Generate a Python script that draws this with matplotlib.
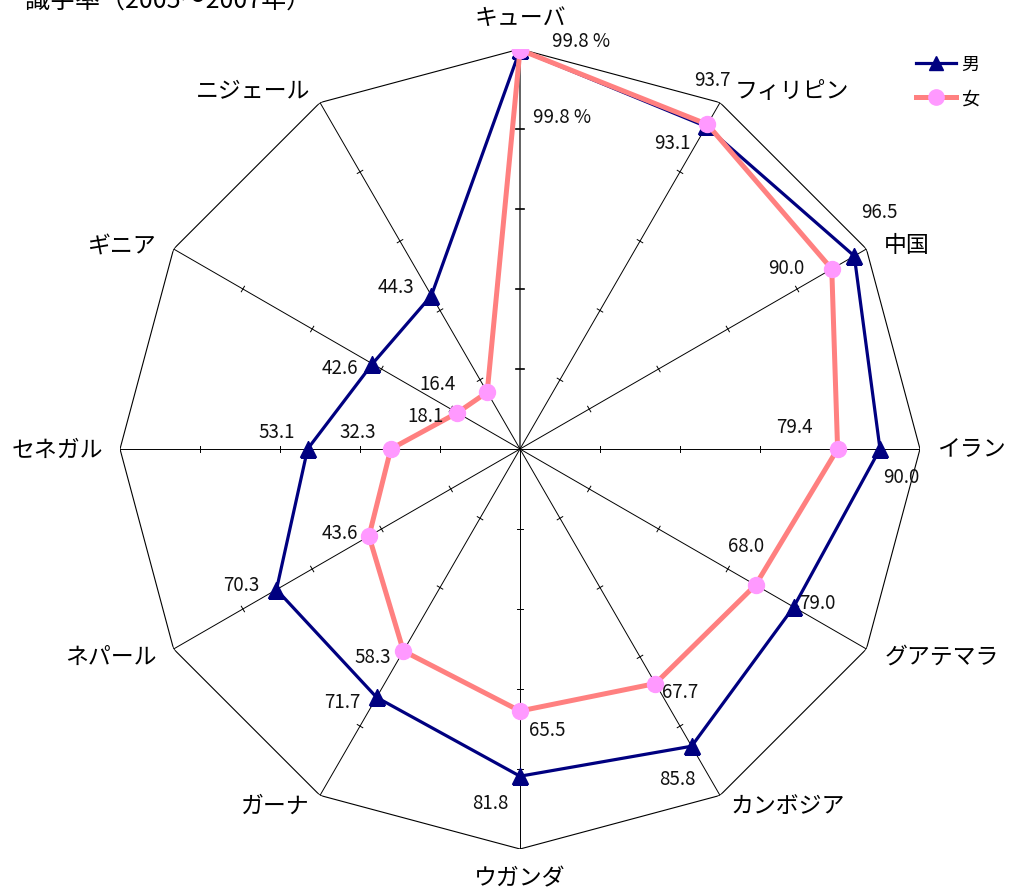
import numpy as np
import matplotlib
matplotlib.use('Agg')
import matplotlib.pyplot as plt
from matplotlib.lines import Line2D

plt.rcParams['font.family'] = ['Noto Sans CJK JP', 'DejaVu Sans']

# DATA
countries = ['キューバ', 'フィリピン', '中国', 'イラン', 'グアテマラ', 'カンボジア',
             'ウガンダ', 'ガーナ', 'ネパール', 'セネガル', 'ギニア', 'ニジェール']
male = [99.8, 93.1, 96.5, 90.0, 79.0, 85.8, 81.8, 71.7, 70.3, 53.1, 42.6, 44.3]
female = [99.8, 93.7, 90.0, 79.4, 68.0, 67.7, 65.5, 58.3, 43.6, 32.3, 18.1, 16.4]
title = '識字率（2005～2007年）'

# label offsets in pixels (dx, dy), hand placed like the original
male_off = [(42, -67), (-34, -16), (25, 44), (21, -28), (24, 4), (-14, -32),
            (-30, -26), (-34, -4), (-35, 5), (-31, 17), (-33, -4), (-35, 9)]
female_off = [(61, 9), (5, 45), (-46, 2), (-43, 22), (-9, 39), (25, -8),
              (27, -19), (-31, -6), (-29, 4), (-33, 17), (-32, -3), (-50, 9)]

# category label placement: (dx, dy, ha, va) in pixels from the outer vertex
cat_pos = [(0, 20, 'center', 'bottom'), (15, 12, 'left', 'center'),
           (17, 4, 'left', 'center'), (17, 0, 'left', 'center'),
           (18, -7, 'left', 'center'), (10, -10, 'left', 'center'),
           (0, -17, 'center', 'top'), (-10, -10, 'right', 'center'),
           (-17, -7, 'right', 'center'), (-17, 0, 'right', 'center'),
           (-17, 4, 'right', 'center'), (-10, 12, 'right', 'center')]

n = len(countries)
theta = np.arange(n) * 2 * np.pi / n

fig = plt.figure(figsize=(10.13, 8.95), dpi=100)
ax = fig.add_axes([120 / 1013, 45 / 895, 800 / 1013, 800 / 895], projection='polar')
ax.set_theta_zero_location('N')
ax.set_theta_direction(-1)
ax.set_ylim(0, 100)
ax.grid(False)
ax.set_xticks([])
ax.set_yticks([])
ax.spines['polar'].set_visible(False)
ax.patch.set_visible(False)

# outer frame (12-gon) and spokes
th_closed = np.append(theta, theta[0])
ax.plot(th_closed, [100] * (n + 1), color='black', lw=0.8, zorder=1)
for k, t in enumerate(theta):
    if k == 0:
        ax.plot([t, t], [0, 100], color='#555555', lw=1.3, zorder=1)
    else:
        ax.plot([t, t], [0, 100], color='black', lw=0.7, zorder=1)
    for r in range(20, 100, 20):
        half = 1.1 if k == 0 else 0.8
        d = np.arctan(half / r)
        ax.plot([t - d, t + d], [r, r], color='black',
                lw=1.2 if k == 0 else 0.7, zorder=1)

# series
ax.plot(th_closed, male + male[:1], color='#000080', lw=2.3, marker='^',
        markersize=11, markerfacecolor='#000080', markeredgecolor='#000080',
        zorder=3, label='男')
ax.plot(th_closed, female + female[:1], color='#FF8080', lw=3.6, marker='o',
        markersize=11.5, markerfacecolor='#FF99FF', markeredgecolor='#FF99FF',
        zorder=4, label='女')

# data labels
for k in range(n):
    mt = f'{male[k]:.1f}' + (' %' if k == 0 else '')
    ft = f'{female[k]:.1f}' + (' %' if k == 0 else '')
    ax.annotate(mt, (theta[k], male[k]), xytext=male_off[k],
                textcoords='offset pixels', ha='center', va='center',
                fontsize=13.5, color='#111111', zorder=5)
    ax.annotate(ft, (theta[k], female[k]), xytext=female_off[k],
                textcoords='offset pixels', ha='center', va='center',
                fontsize=13.5, color='#111111', zorder=5)

# category labels
for k in range(n):
    dx, dy, ha, va = cat_pos[k]
    ax.annotate(countries[k], (theta[k], 100), xytext=(dx, dy),
                textcoords='offset pixels', ha=ha, va=va, fontsize=16.5,
                annotation_clip=False)

# legend
handles = [Line2D([], [], color='#000080', lw=2.3, marker='^', markersize=10),
           Line2D([], [], color='#FF8080', lw=3.6, marker='o', markersize=11,
                  markerfacecolor='#FF99FF', markeredgecolor='#FF99FF')]
fig.legend(handles, ['男', '女'], loc='upper left',
           bbox_to_anchor=(900 / 1013, 1 - 40 / 895), frameon=False,
           fontsize=13, handlelength=2.2, handletextpad=0.3, labelspacing=0.9)

# title, clipped at the top like the original
fig.text(25 / 1013, 1 - 8 / 895, title, fontsize=18, ha='left', va='baseline')

fig.savefig('out.png', dpi=100)
